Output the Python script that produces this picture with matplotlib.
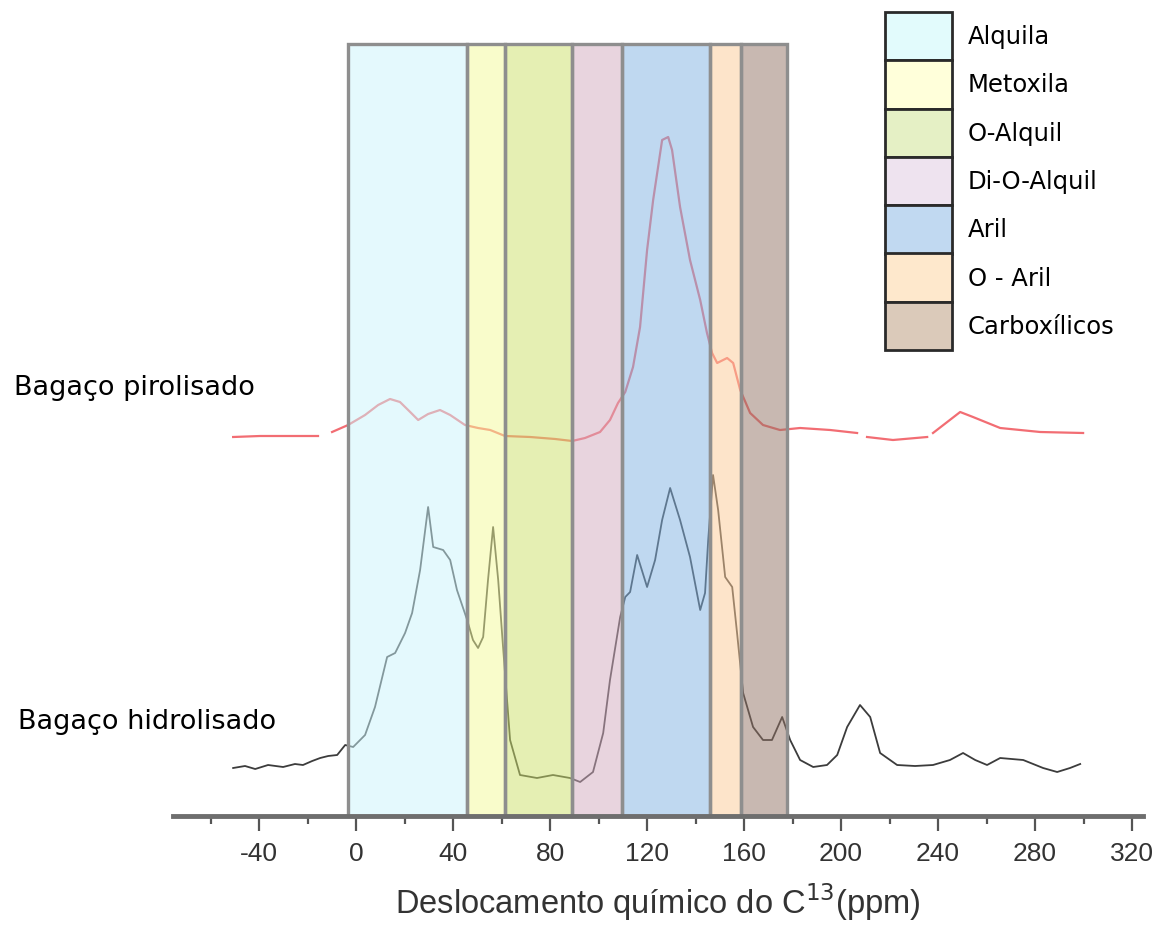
import numpy as np
import matplotlib
matplotlib.use('Agg')
import matplotlib.pyplot as plt
from matplotlib.patches import Rectangle

plt.rcParams['axes.unicode_minus'] = False

# ---------- dados ----------
# faixas de deslocamento químico (ppm)
regioes = ['Alquila', 'Metoxila', 'O-Alquil', 'Di-O-Alquil', 'Aril', 'O - Aril', 'Carboxílicos']
limites = [-3.3, 45.8, 61.4, 89.1, 109.7, 146.0, 158.7, 177.7]
altura_caixa = 772

# cores (plot com transparência / legenda opaca)
cores_plot = ['#cbf5fd', '#f5fb99', '#cde169', '#d3abbf', '#81b3e3', '#fdcb97', '#937365']
cores_leg = ['#e2fbfc', '#ffffda', '#e5f0c5', '#eee3ef', '#c1d9f1', '#fee8cc', '#dbcaba']

# Bagaço hidrolisado
ppm_h = [-50.7, -45.8, -41.6, -36.3, -30.1, -25.2, -21.9, -18.1, -14.8, -11.5, -7.8,
         -4.5, -1.2, 3.7, 7.8, 12.8, 16.1, 20.2, 23.1, 26.4, 29.7, 31.8, 35.9, 38.8,
         41.6, 45.8, 48.2, 50.3, 52.4, 54.4, 56.5, 58.6, 60.6, 63.5, 67.6, 74.6, 81.2,
         88.2, 92.4, 97.7, 101.9, 104.7, 108.9, 111.0, 113.0, 115.9, 120.0, 123.3,
         126.2, 129.5, 133.6, 137.7, 141.9, 143.9, 145.2, 147.2, 149.3, 152.2, 155.1,
         157.1, 159.6, 163.7, 167.8, 171.5, 175.7, 179.0, 183.1, 188.5, 194.2, 198.4,
         202.5, 207.8, 212.0, 216.1, 223.1, 230.5, 237.9, 244.9, 250.3, 255.3, 260.2,
         265.6, 275.1, 283.3, 289.1, 294.4, 298.6]
int_h = [48, 50, 47, 51, 49, 52, 51, 55, 58, 60, 61,
         71, 69, 81, 109, 159, 163, 183, 203, 246, 309, 269, 266, 256,
         226, 196, 176, 168, 179, 236, 289, 236, 169, 76, 41, 38, 41,
         38, 34, 44, 83, 136, 199, 219, 224, 261, 229, 256,
         296, 328, 296, 259, 206, 223, 276, 341, 306, 239, 229,
         183, 123, 89, 76, 76, 99, 76, 56, 49, 51, 61,
         89, 111, 99, 63, 51, 50, 51, 56, 63, 56, 51,
         58, 56, 48, 44, 48, 52]

# Bagaço pirolisado (nan = falhas na linha)
ppm_p = [-50.7, -39.6, -27.2, -15.7, np.nan, -9.9, -3.3, 3.7, 9.1, 14.0, 18.1, 22.3,
         25.6, 29.7, 34.6, 38.8, 44.9, 50.3, 55.3, 61.4, 71.8, 82.1, 89.1, 94.4, 100.6,
         104.7, 108.0, 111.0, 114.2, 117.1, 120.0, 122.5, 126.2, 128.7, 130.3, 133.6,
         137.7, 141.9, 144.7, 146.8, 148.9, 153.0, 155.5, 158.4, 162.5, 167.8, 174.8,
         183.1, 195.5, 206.6, np.nan, 210.7, 221.4, 235.5, np.nan, 237.9, 249.1, 254.4,
         265.6, 282.1, 299.8]
int_p = [379, 380, 380, 380, np.nan, 384, 391, 401, 411, 417, 414, 404,
         396, 402, 406, 401, 391, 388, 386, 380, 379, 377, 375, 378, 384,
         396, 413, 424, 449, 489, 566, 616, 676, 679, 666, 609,
         556, 516, 483, 463, 453, 458, 453, 426, 403, 391, 386,
         388, 386, 383, np.nan, 379, 376, 379, np.nan, 383, 404, 399,
         388, 384, 383]

W, H = 1154, 925
fig = plt.figure(figsize=(W / 100, H / 100), dpi=100)
ax = fig.add_axes([173 / W, (H - 816) / H, (1143 - 173) / W, 816 / H])

ax.plot(ppm_h, int_h, color='#3c3c3c', lw=1.3, zorder=2)
ax.plot(ppm_p, int_p, color='#f26d73', lw=1.6, zorder=2)

# caixas das regiões (sobre as curvas)
esq = limites[:-1]
larg = np.diff(limites)
ax.bar(esq, altura_caixa, width=larg, align='edge', color=cores_plot, alpha=0.5,
       edgecolor='none', zorder=3)
ax.bar(esq, altura_caixa, width=larg, align='edge', color='none',
       edgecolor='#8e8e8e', lw=2.4, zorder=4)

fonte_eixo = ['Liberation Sans Narrow', 'Liberation Sans', 'DejaVu Sans']
ax.set_xlim(-75.5, 324.5)
ax.set_ylim(0, 816)
for s in ['left', 'top', 'right']:
    ax.spines[s].set_visible(False)
ax.spines['bottom'].set_color('#6e6e6e')
ax.spines['bottom'].set_linewidth(3.5)
ax.spines['bottom'].set_zorder(5)
ax.set_yticks([])
ax.set_xticks(np.arange(-40, 321, 40))
ax.set_xticks(np.arange(-60, 321, 20), minor=True)
ax.tick_params(axis='x', which='major', length=11, width=1.6, color='#555555',
               pad=8, labelsize=19, labelcolor='#333333')
ax.tick_params(axis='x', which='minor', length=6, width=1.6, color='#555555')
for t in ax.get_xticklabels():
    t.set_family(fonte_eixo)
ax.set_xlabel('Deslocamento químico do C$^{13}$(ppm)', fontsize=23.5, color='#333333',
              family=fonte_eixo, labelpad=11)
ax.patch.set_alpha(0)

# rótulos das curvas
fig.text(14 / W, (H - 395) / H, 'Bagaço pirolisado', fontsize=19.5, va='baseline')
fig.text(18 / W, (H - 729) / H, 'Bagaço hidrolisado', fontsize=19.5, va='baseline')

# legenda manual
topo, linha = 12, 48.3
for i, (nome, cor) in enumerate(zip(regioes, cores_leg)):
    y0 = topo + i * linha
    fig.add_artist(Rectangle((885 / W, (H - y0 - linha) / H), 67 / W, linha / H,
                             facecolor=cor, edgecolor='#2a2a2a', lw=2,
                             transform=fig.transFigure))
    fig.text(968 / W, (H - y0 - linha / 2 - 1) / H, nome, fontsize=17.5, va='center')

fig.savefig('out.png', dpi=100)
